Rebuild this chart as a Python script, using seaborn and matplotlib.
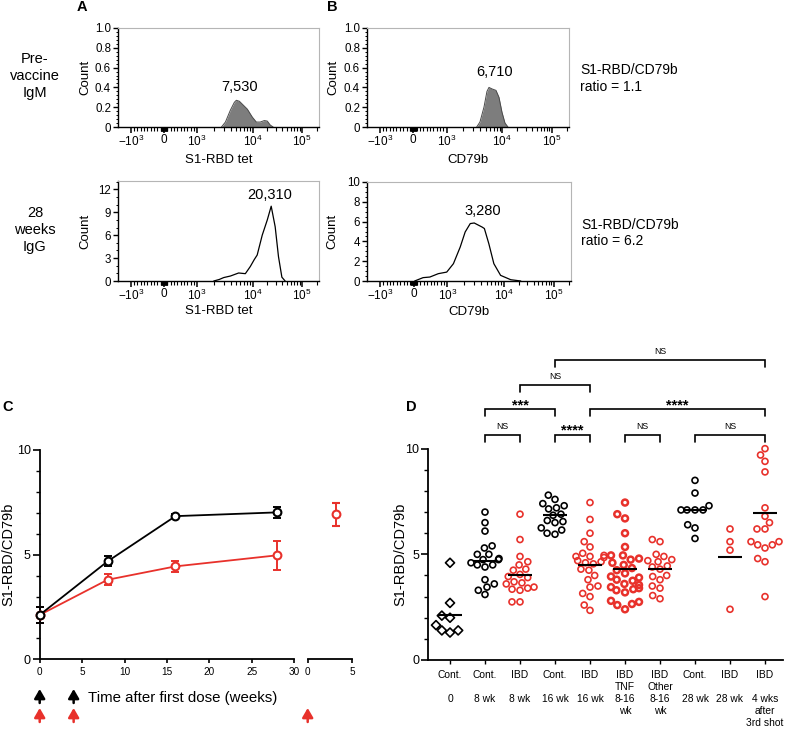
import numpy as np
import pandas as pd
import matplotlib
matplotlib.use("Agg")
import matplotlib.pyplot as plt
import seaborn as sns
from matplotlib.ticker import AutoMinorLocator

sns.set_style("ticks")
plt.rcParams["font.family"] = ["Liberation Sans", "DejaVu Sans"]
plt.rcParams["mathtext.fontset"] = "custom"
plt.rcParams["mathtext.rm"] = "Liberation Sans"
plt.rcParams["mathtext.it"] = "Liberation Sans:italic"
plt.rcParams["mathtext.bf"] = "Liberation Sans:bold"
for k in ["axes.edgecolor", "xtick.color", "ytick.color", "text.color", "axes.labelcolor"]:
    plt.rcParams[k] = "black"

# ---------------- data ----------------
# Panel A/B flow histograms: fluorescence value vs count
a_top_x = [2740, 3230, 3970, 4690, 5090, 5770, 6810, 8040, 9880, 11900, 14300, 17300, 19900, 22800, 26200]
a_top_y = [0, 0.05, 0.17, 0.25, 0.27, 0.26, 0.22, 0.18, 0.10, 0.05, 0.05, 0.065, 0.06, 0.02, 0]
b_top_x = [3470, 3970, 4690, 5310, 5770, 6530, 7710, 8730, 9880, 11350, 13040]
b_top_y = [0, 0.05, 0.20, 0.36, 0.40, 0.385, 0.37, 0.30, 0.15, 0.04, 0]
a_bot_x = [1990, 2500, 3010, 3970, 5600, 7400, 9100, 10800, 12400, 15700, 19900, 23900, 28800, 33600, 39400, 45900]
a_bot_y = [0, 0.2, 0.45, 0.65, 1.05, 0.96, 1.9, 2.8, 3.4, 6.0, 8.0, 9.8, 7.1, 3.2, 0.5, 0]
b_bot_x = [30, 280, 480, 730, 980, 1280, 1690, 2070, 2550, 3000, 4140, 4550, 5460, 6710, 8840, 13900, 22100]
b_bot_y = [0, 0.34, 0.40, 0.74, 0.90, 1.75, 3.43, 4.95, 5.80, 5.86, 5.45, 5.30, 3.77, 1.75, 0.57, 0.13, 0]
flow_ticks = [-1000, 0, 1000, 10000, 100000]
flow_tick_labels = [r"$-10^{3}$", "0", r"$10^{3}$", r"$10^{4}$", r"$10^{5}$"]
medians = ["7,530", "6,710", "20,310", "3,280"]
ratios = ["S1-RBD/CD79b\nratio = 1.1", "S1-RBD/CD79b\nratio = 6.2"]
row_labels = ["Pre-\nvaccine\nIgM", "28\nweeks\nIgG"]

# Panel C: mean +/- SEM
c_weeks = [0, 8, 16, 28]
c_cont_mean = [2.12, 4.68, 6.84, 7.02]
c_cont_err = [0.40, 0.24, 0.10, 0.28]
c_ibd_mean = [2.12, 3.80, 4.44, 4.97]
c_ibd_err = [0.40, 0.27, 0.26, 0.68]
c_boost_week = [3.2]
c_boost_mean = [6.92]
c_boost_err = [0.53]
dose_weeks = [0, 4]
third_dose_weeks = [0]

# Panel D: individual ratios
d_labels = ["Cont.\n\n0", "Cont.\n\n8 wk", "IBD\n\n8 wk", "Cont.\n\n16 wk", "IBD\n\n16 wk",
            "IBD\nTNF\n8-16\nwk", "IBD\nOther\n8-16\nwk", "Cont.\n\n28 wk", "IBD\n\n28 wk",
            "IBD\n\n4 wks\nafter\n3rd shot"]
d_cont0 = [4.6, 2.7, 2.1, 2.0, 1.65, 1.3, 1.4, 1.4]
d_cont8 = [7.0, 6.5, 6.1, 5.4, 5.3, 5.0, 5.0, 4.8, 4.75, 4.75, 4.6, 4.5, 4.5, 4.4, 3.8, 3.6, 3.45, 3.3, 3.1]
d_ibd8 = [6.9, 5.7, 4.9, 4.65, 4.5, 4.3, 4.25, 4.05, 3.95, 3.9, 3.7, 3.65, 3.6, 3.45, 3.4, 3.35, 3.3, 2.75, 2.75]
d_cont16 = [7.8, 7.6, 7.4, 7.3, 7.2, 7.15, 6.9, 6.85, 6.6, 6.55, 6.5, 6.25, 6.15, 6.0, 5.95]
d_ibd16 = [7.45, 6.65, 6.0, 5.6, 5.35, 5.05, 4.95, 4.9, 4.9, 4.85, 4.7, 4.65, 4.6, 4.55, 4.3, 4.25,
           4.0, 3.8, 3.5, 3.45, 3.15, 3.0, 2.6, 2.35]
d_tnf = [7.45, 6.9, 6.7, 6.0, 5.35, 4.95, 4.95, 4.8, 4.75, 4.6, 4.5, 4.35, 4.25, 4.1, 3.95, 3.9, 3.8,
         3.75, 3.6, 3.55, 3.45, 3.4, 3.35, 3.3, 3.2, 2.8, 2.75, 2.65, 2.6, 2.4]
d_other = [5.7, 5.6, 5.0, 4.9, 4.75, 4.7, 4.65, 4.45, 4.4, 4.3, 4.0, 3.95, 3.8, 3.5, 3.4, 3.05, 2.9]
d_cont28 = [8.5, 7.9, 7.3, 7.1, 7.1, 7.1, 7.1, 6.4, 6.25, 5.75]
d_ibd28 = [6.2, 5.6, 5.2, 2.4]
d_boost = [10.0, 9.7, 9.4, 8.9, 7.2, 6.8, 6.5, 6.2, 6.2, 5.6, 5.6, 5.45, 5.45, 5.3, 4.8, 4.65, 3.0]
d_means = [2.15, 4.70, 4.02, 6.86, 4.50, 4.29, 4.31, 7.10, 4.86, 6.94]
d_is_control = [True, True, False, True, False, False, False, True, False, False]
sig_pairs = [(1, 2, "NS"), (3, 4, "****"), (5, 6, "NS"), (7, 9, "NS"),
             (1, 3, "***"), (4, 9, "****"), (2, 4, "NS"), (3, 9, "NS")]
sig_level = [0, 0, 0, 0, 1, 1, 2, 3]

# ---------------- style / layout ----------------
RED = "#e8312b"
W, H = 788, 732
fig = plt.figure(figsize=(W / 100, H / 100), dpi=100)
fig.patch.set_facecolor("white")


def rect(l, t, r, b):
    return [l / W, 1 - b / H, (r - l) / W, (b - t) / H]


def ftext(x, y, s, **kw):
    return fig.text(x / W, 1 - y / H, s, **kw)


# biexponential-like display scale
LIN = 33.4
POS_DEC = [3, 4, 5, 7]
POS_U = [0, 55.6, 105.0, 203.8]


def fwd(v):
    v = np.asarray(v, dtype=float)
    a = np.abs(v)
    lg = np.log10(np.maximum(a, 1000.0))
    pos = LIN + np.interp(lg, POS_DEC, POS_U)
    neg = -(LIN + (lg - 3) * 50.0)
    return np.where(a <= 1000, v / 1000 * LIN, np.where(v > 0, pos, neg))


def inv(u):
    u = np.asarray(u, dtype=float)
    a = np.abs(u)
    d = np.maximum(a - LIN, 0)
    pos = 10 ** np.interp(d, POS_U, POS_DEC)
    neg = -(10 ** (3 + d / 50.0))
    return np.where(a <= LIN, u / LIN * 1000, np.where(u > 0, pos, neg))


flow_minor = (list(range(-900, -99, 100)) + list(range(-90, 0, 10)) + list(range(10, 100, 10))
              + list(range(100, 1000, 100)) + list(range(2000, 10000, 1000))
              + list(range(20000, 100000, 10000)) + [200000])


def hist_axes(ax, ymax, yticks, ylabels, nminor, xlab, ylab_x, xlab_y):
    ax.set_xscale("function", functions=(fwd, inv))
    ax.set_xlim(-1800, 2.24e5)
    ax.set_ylim(0, ymax)
    ax.set_xticks(flow_ticks, flow_tick_labels)
    ax.set_xticks(flow_minor, minor=True)
    ax.set_yticks(yticks, ylabels)
    ax.yaxis.set_minor_locator(AutoMinorLocator(nminor))
    for s in ("top", "right"):
        ax.spines[s].set_color("#b5b5b5")
        ax.spines[s].set_linewidth(0.8)
    for s in ("left", "bottom"):
        ax.spines[s].set_linewidth(1.0)
    ax.tick_params(axis="x", which="major", length=4.2, width=1.1, labelsize=8.5, pad=0.5)
    ax.tick_params(axis="x", which="minor", length=2.8, width=0.8)
    ax.tick_params(axis="y", which="major", length=3.5, width=1.0, labelsize=8.3, pad=1.5)
    ax.tick_params(axis="y", which="minor", length=1.8, width=0.7)
    ax.set_ylabel("Count", fontsize=9.5)
    ax.yaxis.label.set_va("center")
    ax.yaxis.set_label_coords(ylab_x, 0.5)
    ax.set_xlabel(xlab, fontsize=9.5)
    ax.xaxis.label.set_va("center")
    ax.xaxis.set_label_coords(0.5, xlab_y)


axA1 = fig.add_axes(rect(118, 28, 319, 127))
axB1 = fig.add_axes(rect(367, 28, 569, 127))
axA2 = fig.add_axes(rect(118, 181, 319, 281))
axB2 = fig.add_axes(rect(367, 182, 571, 281))

for ax, xs, ys in [(axA1, a_top_x, a_top_y), (axB1, b_top_x, b_top_y)]:
    ax.fill_between(xs, ys, 0, color="#7d7d7d", lw=0)
    sns.lineplot(x=xs, y=ys, ax=ax, color="#4a4a4a", lw=0.7, sort=True)
for ax, xs, ys in [(axA2, a_bot_x, a_bot_y), (axB2, b_bot_x, b_bot_y)]:
    sns.lineplot(x=xs, y=ys, ax=ax, color="black", lw=0.9, sort=True)

frac_ticks = [0, 0.2, 0.4, 0.6, 0.8, 1.0]
frac_labels = ["0", "0.2", "0.4", "0.6", "0.8", "1.0"]
hist_axes(axA1, 1.0, frac_ticks, frac_labels, 5, "S1-RBD tet", -0.164, -0.33)
hist_axes(axB1, 1.0, frac_ticks, frac_labels, 5, "CD79b", -0.168, -0.33)
hist_axes(axA2, 13.1, [0, 3, 6, 9, 12], ["0", "3", "6", "9", "12"], 3, "S1-RBD tet", -0.164, -0.30)
hist_axes(axB2, 10, [0, 2, 4, 6, 8, 10], ["0", "2", "4", "6", "8", "10"], 4, "CD79b", -0.168, -0.31)

ftext(240, 87, medians[0], fontsize=10.5, ha="center", va="center")
ftext(495, 72, medians[1], fontsize=10.5, ha="center", va="center")
ftext(270, 195, medians[2], fontsize=10.5, ha="center", va="center")
ftext(483, 211, medians[3], fontsize=10.5, ha="center", va="center")
ftext(580, 78.5, ratios[0], fontsize=10, ha="left", va="center", linespacing=1.25)
ftext(581, 233, ratios[1], fontsize=10, ha="left", va="center", linespacing=1.25)
ftext(35, 76, row_labels[0], fontsize=10.5, ha="center", va="center", multialignment="center", linespacing=1.25)
ftext(35, 230, row_labels[1], fontsize=10.5, ha="center", va="center", multialignment="center", linespacing=1.25)
ftext(82, 7, "A", fontsize=10.5, fontweight="bold", ha="center", va="center")
ftext(332, 7, "B", fontsize=10.5, fontweight="bold", ha="center", va="center")
ftext(8, 407, "C", fontsize=10.5, fontweight="bold", ha="center", va="center")
ftext(411, 407, "D", fontsize=10.5, fontweight="bold", ha="center", va="center")

# ---------------- panel C ----------------
axC = fig.add_axes(rect(39.7, 450, 294.3, 659.3))
axC2 = fig.add_axes(rect(307.7, 450, 352.3, 659.3))
for means, errs, col in [(c_ibd_mean, c_ibd_err, RED), (c_cont_mean, c_cont_err, "black")]:
    axC.errorbar(c_weeks, means, yerr=errs, fmt="none", ecolor=col, elinewidth=1.4,
                 capsize=3.2, capthick=1.4, clip_on=False, zorder=3)
    sns.lineplot(x=c_weeks, y=means, ax=axC, color=col, lw=1.3, marker="o", markersize=5.6,
                 markerfacecolor="white", markeredgecolor=col, markeredgewidth=1.5,
                 clip_on=False, zorder=4)
axC2.errorbar(c_boost_week, c_boost_mean, yerr=c_boost_err, fmt="o", color=RED, ms=5.6,
              mfc="white", mec=RED, mew=1.5, elinewidth=1.4, capsize=3.2, capthick=1.4,
              clip_on=False, zorder=4)

axC.set_xlim(0, 30)
axC.set_ylim(0, 10)
axC.set_xticks([0, 5, 10, 15, 20, 25, 30], ["0", "5", "10", "15", "20", "25", "30"])
axC.set_xticks([30], minor=True)
axC.set_yticks([0, 5, 10], ["0", "5", "10"])
axC.set_yticks([1, 2, 3, 4, 6, 7, 8, 9], minor=True)
sns.despine(ax=axC)
axC.spines["left"].set_linewidth(1.3)
axC.spines["bottom"].set_linewidth(1.3)
axC.tick_params(axis="x", which="major", length=3, width=1.2, labelsize=7.2, pad=2.5)
axC.tick_params(axis="x", which="minor", direction="in", length=3, width=1.2)
axC.tick_params(axis="y", which="major", length=5, width=1.2, labelsize=9, pad=1.5)
axC.tick_params(axis="y", which="minor", length=3, width=1.0)
axC.set_ylabel("S1-RBD/CD79b", fontsize=10.5)
axC.yaxis.label.set_va("center")
axC.yaxis.set_label_coords(-0.123, 0.5)

axC2.set_xlim(0, 5)
axC2.set_ylim(0, 10)
axC2.patch.set_alpha(0)
for s in ("left", "top", "right"):
    axC2.spines[s].set_visible(False)
axC2.spines["bottom"].set_linewidth(1.3)
axC2.set_yticks([])
axC2.set_xticks([0, 5], ["0", "5"])
axC2.set_xticks([0], minor=True)
axC2.tick_params(axis="x", which="major", length=3, width=1.2, labelsize=7.2, pad=2.5)
axC2.tick_params(axis="x", which="minor", direction="in", length=3, width=1.2)

ftext(88, 698, "Time after first dose (weeks)", fontsize=10.8, ha="left", va="center")


def dose_arrow(ax, x, y0, y1, col):
    tr = ax.get_xaxis_transform()
    h = ax.get_position().height * H
    b = (1 - ax.get_position().y0) * H
    ax.annotate("", xy=(x, (b - y0) / h), xytext=(x, (b - y1) / h), xycoords=tr, textcoords=tr,
                arrowprops=dict(arrowstyle="-|>,head_width=0.32,head_length=0.55", lw=1.8,
                                color=col, shrinkA=0, shrinkB=0), annotation_clip=False)


for wk in dose_weeks:
    dose_arrow(axC, wk, 689, 703, "black")
    dose_arrow(axC, wk, 708, 722, RED)
for wk in third_dose_weeks:
    dose_arrow(axC2, wk, 708, 722, RED)

# ---------------- panel D ----------------
axD = fig.add_axes(rect(428.3, 343, 782.5, 660))
d_values = [d_cont0, d_cont8, d_ibd8, d_cont16, d_ibd16, d_tnf, d_other, d_cont28, d_ibd28, d_boost]
for i, vals in enumerate(d_values):
    col = "black" if d_is_control[i] else RED
    marker = "D" if i == 0 else "o"
    size = 4.6 if i == 0 else 4.3
    lw = 1.8 if i == 5 else 1.2
    sub = pd.DataFrame({"pos": np.full(len(vals), i), "ratio": vals})
    sns.swarmplot(data=sub, x="pos", y="ratio", ax=axD, native_scale=True, orient="x",
                  marker=marker, size=size, color=col, linewidth=lw, zorder=2,
                  warn_thresh=1.0)
    coll = axD.collections[-1]
    coll.set_facecolor("none")
    coll.set_edgecolor(col)
    coll.set_linewidth(lw)
    coll.set_clip_on(False)

pos = np.arange(len(d_means))
axD.hlines(d_means, pos - 0.33, pos + 0.33, colors="black", lw=1.5, zorder=3)

axD.set_xlim(-0.62, 9.5)
axD.set_ylim(0, 15)
axD.set_xticks(pos, d_labels)
axD.set_yticks([0, 5, 10], ["0", "5", "10"])
axD.set_yticks([1, 2, 3, 4, 6, 7, 8, 9], minor=True)
sns.despine(ax=axD)
axD.spines["left"].set_bounds(0, 10)
axD.spines["left"].set_linewidth(1.3)
axD.spines["bottom"].set_linewidth(1.3)
axD.tick_params(axis="x", which="major", length=3, width=1.0, labelsize=7.4, pad=4)
axD.tick_params(axis="y", which="major", length=5, width=1.2, labelsize=9, pad=1.5)
axD.tick_params(axis="y", which="minor", length=3, width=1.0)
for lab in axD.get_xticklabels():
    lab.set_linespacing(1.25)
axD.set_xlabel("")
axD.set_ylabel("S1-RBD/CD79b", fontsize=10.5)
axD.yaxis.label.set_va("center")
axD.yaxis.set_label_coords(-0.08, 5 / 15)

levels = [10.65, 11.86, 13.01, 14.2]
leg = 0.32
for (a, b, txt), lv in zip(sig_pairs, sig_level):
    y = levels[lv]
    axD.plot([a, a, b, b], [y - leg, y, y, y - leg], color="black", lw=1.2, clip_on=False,
             solid_joinstyle="miter")
    if txt == "NS":
        axD.text((a + b) / 2, y + 0.27, txt, ha="center", va="baseline", fontsize=6.3)
    else:
        axD.text((a + b) / 2, y + 0.0, txt, ha="center", va="baseline", fontsize=10.5,
                 fontweight="bold")

fig.savefig("out.png", dpi=100, facecolor="white")
